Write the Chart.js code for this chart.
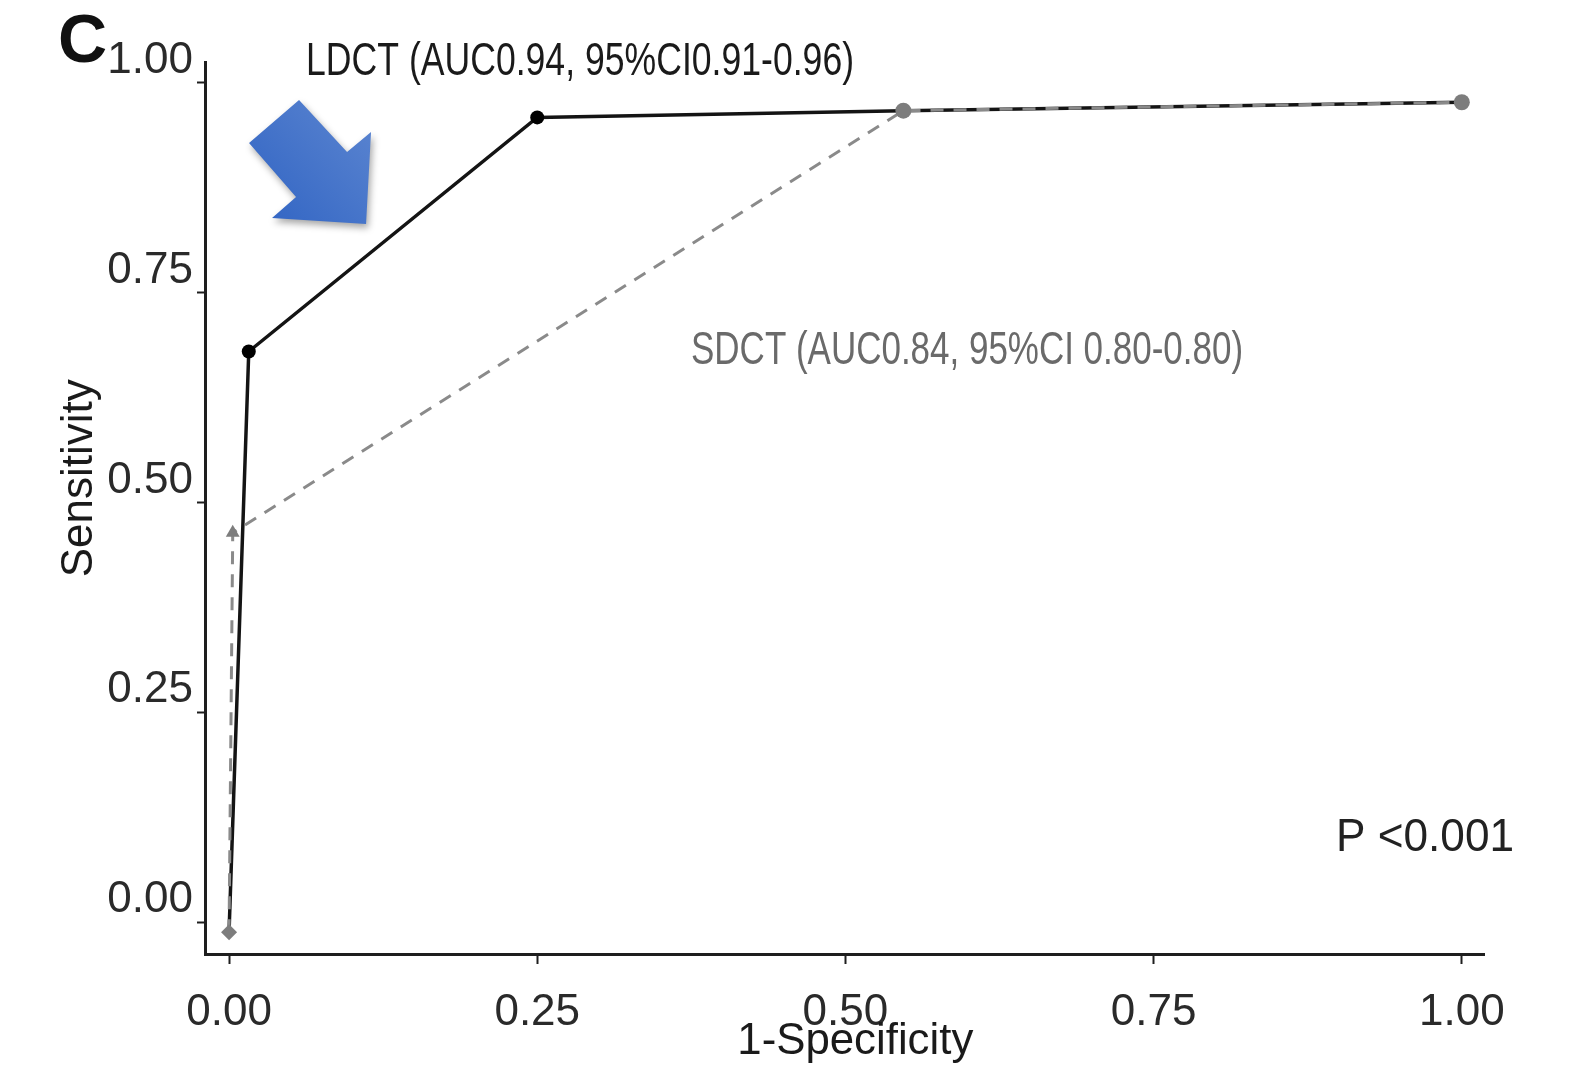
<!DOCTYPE html>
<html>
<head>
<meta charset="utf-8">
<script src="https://cdn.jsdelivr.net/npm/chart.js@4/dist/chart.umd.min.js"></script>
<style>
  html, body { margin: 0; padding: 0; background: #ffffff; }
  #wrap { width: 1575px; height: 1081px; }
</style>
</head>
<body>
<div id="wrap"><canvas id="c" width="1575" height="1081"></canvas></div>
<script>
// ---- data ----
const ldctFpr  = [0.0, 0.016, 0.25, 0.547, 1.0];
const ldctSens = [-0.012, 0.68, 0.959, 0.967, 0.977];
const sdctFpr  = [0.0, 0.003, 0.547, 1.0];
const sdctSens = [-0.012, 0.464, 0.967, 0.977];
const xTickValues = [0, 0.25, 0.5, 0.75, 1];
const yTickValues = [0, 0.25, 0.5, 0.75, 1];
const panelLetter = 'C';
const ldctLabel = 'LDCT (AUC0.94, 95%CI0.91-0.96)';
const sdctLabel = 'SDCT (AUC0.84, 95%CI 0.80-0.80)';
const pLabel = 'P <0.001';
const xTitle = '1-Specificity';
const yTitle = 'Sensitivity';

const FONT = "'Liberation Sans', Arial, sans-serif";

const toPts = (xs, ys) => xs.map((x, i) => ({ x: x, y: ys[i] }));

const annotations = {
  id: 'annotations',
  afterDraw(chart) {
    const ctx = chart.ctx;
    const xs = chart.scales.x, ys = chart.scales.y;
    const px = v => xs.getPixelForValue(v);
    const py = v => ys.getPixelForValue(v);
    ctx.save();
    // Panel letter
    ctx.fillStyle = '#111';
    ctx.font = 'bold 68px ' + FONT;
    ctx.textAlign = 'left';
    ctx.textBaseline = 'alphabetic';
    ctx.fillText(panelLetter, px(0) - 171, py(1) - 21);

    // Axis titles
    ctx.font = '44px ' + FONT;
    ctx.fillStyle = '#1a1a1a';
    ctx.textAlign = 'center';
    ctx.textBaseline = 'middle';
    ctx.fillText(xTitle, px(0.508), chart.chartArea.bottom + 88, 236);
    ctx.save();
    ctx.translate(chart.chartArea.left - 125, py(0.529));
    ctx.rotate(-Math.PI / 2);
    ctx.fillText(yTitle, 0, 0, 202);
    ctx.restore();

    // LDCT label
    ctx.textAlign = 'left';
    ctx.font = '46px ' + FONT;
    ctx.fillStyle = '#1a1a1a';
    ctx.fillText(ldctLabel, px(0) + 77, py(1) - 21, 548);
    // SDCT label
    ctx.fillStyle = '#6a6a6a';
    ctx.fillText(sdctLabel, px(0) + 462, py(0.5) - 151, 552);
    // P value
    ctx.fillStyle = '#222';
    ctx.fillText(pLabel, px(0) + 1107, py(0.10), 178);

    // Blue arrow (tip near the LDCT curve)
    const ax = px(0), ay = py(1);
    const pts = [[299,100],[347,152],[371,132],[366,224],[272,218],[296,197],[249,143]]
      .map(p => [p[0] - 229 + ax, p[1] - 83 + ay]);
    ctx.shadowColor = 'rgba(0,0,0,0.35)';
    ctx.shadowBlur = 7;
    ctx.shadowOffsetX = 2;
    ctx.shadowOffsetY = 4;
    const g = ctx.createLinearGradient(ax + 30, ay + 130, ax + 140, ay + 30);
    g.addColorStop(0, '#3366c4');
    g.addColorStop(1, '#5a84d0');
    ctx.fillStyle = g;
    ctx.beginPath();
    pts.forEach((p, i) => i ? ctx.lineTo(p[0], p[1]) : ctx.moveTo(p[0], p[1]));
    ctx.closePath();
    ctx.fill();
    ctx.restore();
  }
};

new Chart(document.getElementById('c'), {
  type: 'scatter',
  data: {
    datasets: [
      {
        label: 'SDCT',
        data: toPts(sdctFpr, sdctSens),
        showLine: true,
        borderColor: '#8a8a8a',
        borderWidth: 3,
        borderDash: [13, 10],
        pointStyle: ['rectRot', 'triangle', 'circle', 'circle'],
        pointRadius: [8, 8, 8, 8],
        pointBackgroundColor: '#7d7d7d',
        pointBorderColor: '#7d7d7d',
        pointBorderWidth: 0
      },
      {
        label: 'LDCT',
        data: toPts(ldctFpr, ldctSens),
        showLine: true,
        borderColor: '#141414',
        borderWidth: 3.5,
        pointRadius: [0, 7, 7, 0, 0],
        pointBackgroundColor: '#000',
        pointBorderColor: '#000',
        pointBorderWidth: 0
      }
    ]
  },
  options: {
    responsive: false,
    animation: false,
    devicePixelRatio: 1,
    layout: { padding: { left: 0, top: 62, right: 91, bottom: 0 } },
    plugins: { legend: { display: false }, tooltip: { enabled: false } },
    scales: {
      x: {
        type: 'linear',
        min: -0.0195,
        max: 1.018,
        afterBuildTicks: s => { s.ticks = xTickValues.map(v => ({ value: v })); },
        afterFit: s => { s.height = 127; },
        border: { display: true, color: '#1e1e1e', width: 3 },
        grid: { display: true, drawOnChartArea: false, drawTicks: true, tickLength: 10, tickWidth: 2, color: '#1e1e1e' },
        ticks: {
          callback: v => Number(v).toFixed(2),
          font: { family: FONT, size: 44 },
          color: '#2a2a2a',
          padding: 22,
          maxRotation: 0,
          autoSkip: false
        },
        title: { display: false }
      },
      y: {
        type: 'linear',
        min: -0.038,
        max: 1.025,
        afterBuildTicks: s => { s.ticks = yTickValues.map(v => ({ value: v })); },
        afterFit: s => { s.width = 205; },
        border: { display: true, color: '#1e1e1e', width: 3 },
        grid: { display: true, drawOnChartArea: false, drawTicks: true, tickLength: 8, tickWidth: 2, color: '#1e1e1e' },
        ticks: {
          callback: v => Number(v).toFixed(2),
          font: { family: FONT, size: 44 },
          color: '#2a2a2a',
          padding: 4,
          labelOffset: -22,
          autoSkip: false
        },
        title: { display: false }
      }
    }
  },
  plugins: [annotations]
});
</script>
</body>
</html>
